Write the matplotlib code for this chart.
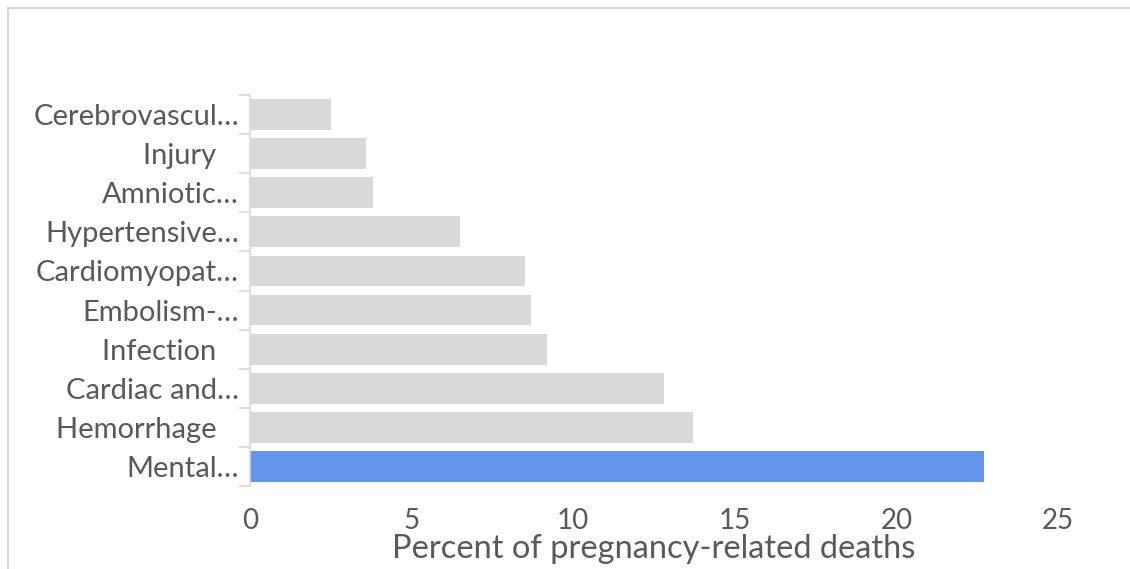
import numpy as np
import matplotlib.pyplot as plt
from matplotlib.lines import Line2D

plt.rcParams['font.family'] = ['Lato', 'DejaVu Sans']

# causes, bottom to top
causas = ["Mental…", "Hemorrhage   ", "Cardiac and…", "Infection   ", "Embolism-…",
          "Cardiomyopat…", "Hypertensive…", "Amniotic…", "Injury   ", "Cerebrovascul…"]
percentuais = [22.7, 13.7, 12.8, 9.2, 8.7, 8.5, 6.5, 3.8, 3.6, 2.5]
cores = ["#6495ed"] + ["#d9d9d9"] * 9

cinza_texto = "#595959"
cinza_linha = "#d9d9d9"

fig = plt.figure(figsize=(11.3, 5.69), dpi=100)
ax = fig.add_axes([250 / 1130, 1 - 486 / 569, 808 / 1130, 391 / 569])

pos = np.arange(len(causas))
ax.barh(pos, percentuais, height=0.79, color=cores)

ax.set_xlim(0, 25)
ax.set_ylim(-0.5, len(causas) - 0.5)
ax.set_xticks([0, 5, 10, 15, 20, 25])
ax.set_yticks(pos)
ax.set_yticklabels(causas)
ax.set_yticks(np.arange(-0.5, len(causas)), minor=True)

ax.tick_params(axis="y", which="major", length=0, pad=8, labelsize=21, labelcolor=cinza_texto)
ax.tick_params(axis="y", which="minor", length=8, width=1.2, color=cinza_linha)
ax.tick_params(axis="x", length=0, pad=16, labelsize=20, labelcolor=cinza_texto)

for lado in ["top", "right", "bottom"]:
    ax.spines[lado].set_visible(False)
ax.spines["left"].set_color(cinza_linha)
ax.spines["left"].set_linewidth(1.2)

ax.set_xlabel("Percent of pregnancy-related deaths", fontsize=23.5, color=cinza_texto, labelpad=0)

# moldura da área do gráfico
fig.add_artist(Line2D([8 / 1130, 1], [1 - 8 / 569, 1 - 8 / 569], color=cinza_linha, lw=1.5))
fig.add_artist(Line2D([8 / 1130, 8 / 1130], [0, 1 - 8 / 569], color=cinza_linha, lw=1.5))

fig.savefig("out.png", dpi=100, facecolor="white")
